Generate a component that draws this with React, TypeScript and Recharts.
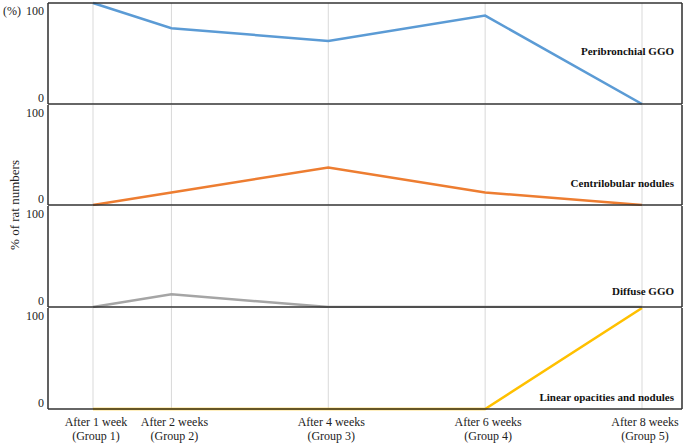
import React from 'react';
import { LineChart, Line, XAxis, YAxis, CartesianGrid } from 'recharts';

// weeks after exposure, x positions follow real time
const weeks = [1, 2, 4, 6, 8];
const weekLabels = ['After 1 week', 'After 2 weeks', 'After 4 weeks', 'After 6 weeks', 'After 8 weeks'];
const groupLabels = ['(Group 1)', '(Group 2)', '(Group 3)', '(Group 4)', '(Group 5)'];
const yTicks = [0, 100];

// % of rats per finding
const peribronchialGGO = [100, 75, 62.5, 87.5, 0];
const centrilobularNodules = [0, 12.5, 37.5, 12.5, 0];
const diffuseGGO = [0, 12.5, 0, 0, 0];
const linearOpacities = [0, 0, 0, 0, 100];

const FONT = 'Liberation Serif';
const FRAME = '#333333';

const PctTick = ({ x, y, payload }: any) => (
  <text x={x} y={payload.value === 100 ? y + 12 : y - 2} textAnchor="end" fontFamily={FONT} fontSize={12} fill="#222">
    {payload.value}
  </text>
);

const WeekTick = ({ x, y, payload }: any) => {
  const i = weeks.indexOf(payload.value);
  return (
    <g>
      <text x={x + 3} y={y + 17} textAnchor="middle" fontFamily={FONT} fontSize={12} fill="#222">{weekLabels[i]}</text>
      <text x={x + 3} y={y + 31} textAnchor="middle" fontFamily={FONT} fontSize={12} fill="#222">{groupLabels[i]}</text>
    </g>
  );
};

const NoTick = () => <g />;

interface PanelProps {
  values: number[];
  color: string;
  height: number;
  name: string;
  nameY: number;
  first?: boolean;
  showX?: boolean;
}

const Panel: React.FC<PanelProps> = ({ values, color, height, name, nameY, first = false, showX = false }) => {
  const rows = weeks.map((w, i) => ({ week: w, value: values[i] }));
  return (
    <LineChart width={685} height={height} data={rows} margin={{ top: first ? 2 : 0, right: 2, bottom: 0, left: 0 }}>
      <CartesianGrid horizontal={false} stroke="#d9d9d9" />
      <XAxis
        dataKey="week"
        type="number"
        domain={[1, 8]}
        ticks={weeks}
        interval={0}
        padding={{ left: 45, right: 40 }}
        height={showX ? 38 : 1}
        tick={showX ? <WeekTick /> : <NoTick />}
        tickLine={false}
        tickSize={0}
        tickMargin={0}
        stroke={FRAME}
        strokeWidth={1.5}
      />
      {first && (
        <XAxis
          xAxisId="top"
          orientation="top"
          dataKey="week"
          type="number"
          domain={[1, 8]}
          height={1}
          tick={<NoTick />}
          tickLine={false}
          stroke={FRAME}
          strokeWidth={1.5}
        />
      )}
      <YAxis
        domain={[0, 100]}
        ticks={yTicks}
        interval={0}
        width={48}
        tick={<PctTick />}
        tickLine={false}
        tickSize={2}
        tickMargin={2}
        stroke={FRAME}
        strokeWidth={1.5}
      />
      <YAxis
        yAxisId="r"
        orientation="right"
        domain={[0, 100]}
        width={1}
        tick={<NoTick />}
        tickLine={false}
        stroke={FRAME}
        strokeWidth={1.5}
      />
      <Line type="linear" dataKey="value" stroke={color} strokeWidth={2.5} dot={false} isAnimationActive={false} />
      <text x={674} y={nameY} textAnchor="end" fontFamily={FONT} fontSize={11} fontWeight={700} fill="#111">
        {name}
      </text>
    </LineChart>
  );
};

const App: React.FC = () => (
  <div style={{ position: 'absolute', left: 0, top: 0, width: 685, height: 447, background: '#fff' }}>
    <Panel values={peribronchialGGO} color="#5B9BD5" height={105} name="Peribronchial GGO" nameY={55} first />
    <Panel values={centrilobularNodules} color="#ED7D31" height={101} name="Centrilobular nodules" nameY={82} />
    <Panel values={diffuseGGO} color="#A5A5A5" height={102} name="Diffuse GGO" nameY={89} />
    <Panel values={linearOpacities} color="#FFC000" height={139} name="Linear opacities and nodules" nameY={93} showX />
    <svg width={60} height={447} style={{ position: 'absolute', left: 0, top: 0, pointerEvents: 'none' }}>
      <text x={3} y={15} fontFamily={FONT} fontSize={12} fill="#222">(%)</text>
      <text transform="translate(19,205) rotate(-90)" textAnchor="middle" fontFamily={FONT} fontSize={13} fill="#222">
        % of rat numbers
      </text>
    </svg>
  </div>
);

export default App;
